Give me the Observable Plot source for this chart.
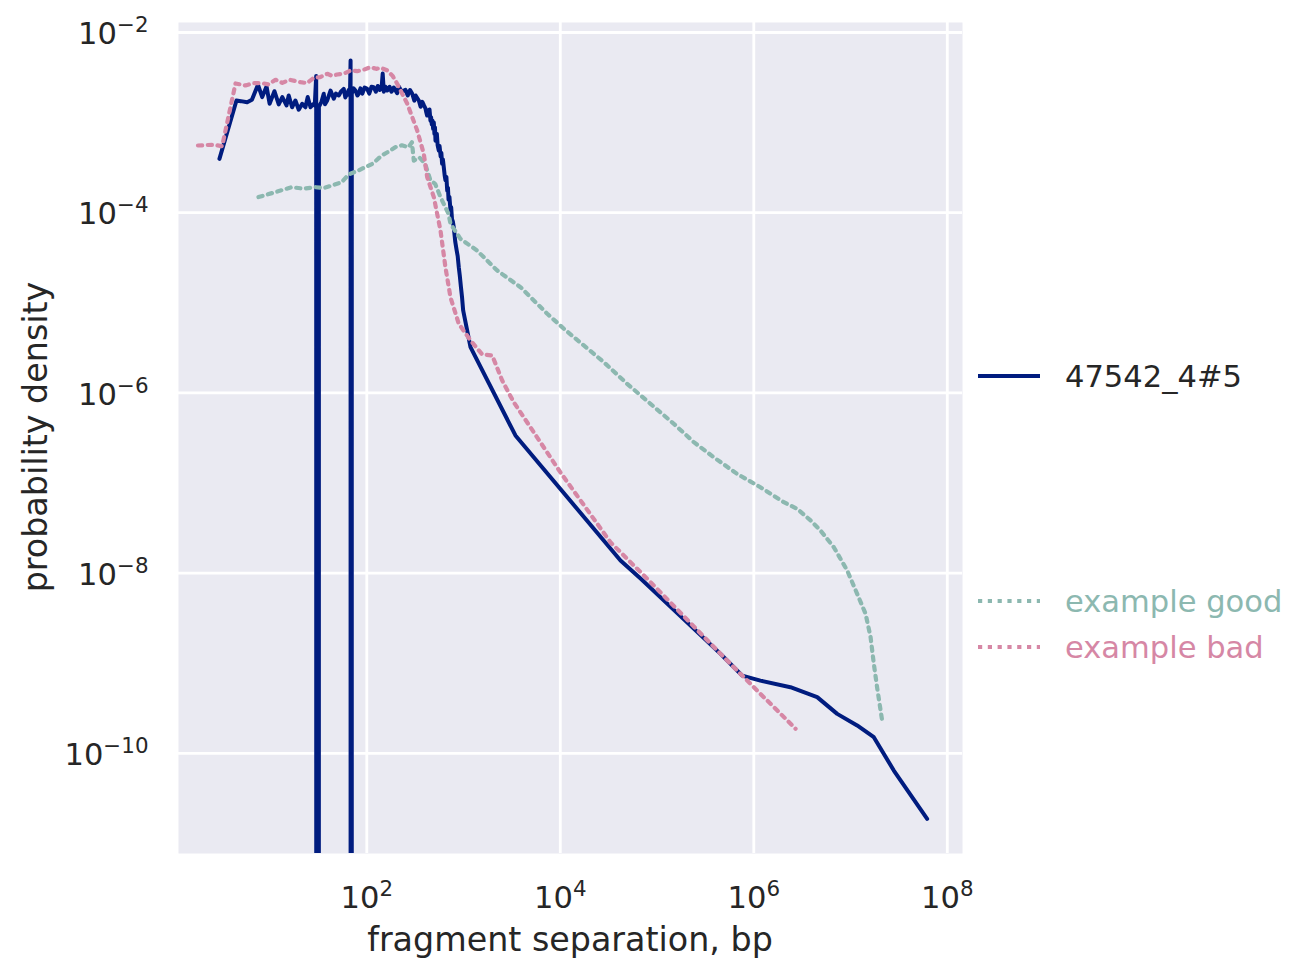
<!DOCTYPE html>
<html><head><meta charset="utf-8">
<script src="https://cdn.jsdelivr.net/npm/d3@7"></script>
<script src="https://cdn.jsdelivr.net/npm/@observablehq/plot@0.6"></script>
<style>
body{margin:0;background:#fff;font-family:"DejaVu Sans",sans-serif;}
#wrap{position:relative;width:1309px;height:979px;overflow:hidden;}
.lbl{position:absolute;font-size:33.33px;line-height:1;color:#262626;white-space:nowrap;}
.leg{position:absolute;left:978px;height:40px;display:flex;align-items:center;font-size:30.56px;white-space:nowrap;}
.leg svg{margin-right:25px;}
</style></head><body><div id="wrap"></div>
<script>
// ---- data ----
const seriesNames = ["47542_4#5", "example good", "example bad"];
const seriesColors = ["#001c7f", "#8cb8b0", "#d687a5"];

const sampleSep = [3,4.5,5,5.8,6.5,7.5,8.3,9.2,9.9,11.1,12.3,13.4,14.8,15.6,16.9,18.3,19.8,21.5,23.2,24.5,26.2,28,29,30,31,32,34,35.9,37,39,42.2,45.6,48,51.4,54,57.8,60,62.7,65,67,68,69,70,73,76.4,80,82.6,86,90,95,101,106,112,118,124,130,136,142,146,150,156,163,172,180,190,206,215,230,251,265,280,295,310,320,345,360,375,
  390,404,412,420,428,435,445,455,462,470,478,485,493,500,507,513,522,530,540,555,565,580,590,600,612,625,638,650,665,678,690,700,715,733,745,760,775,793,820,850,870,893,915,940,965,991,
  1180,3440,41900,67500,453000,759000,1.17e6,2.39e6,4.52e6,7.28e6,1.17e7,1.74e7,2.8e7,6.19e7];
const sampleDensity = [3.96e-4,1.76e-3,1.73e-3,1.68e-3,1.79e-3,2.63e-3,1.92e-3,2.52e-3,1.62e-3,2.23e-3,1.59e-3,1.92e-3,1.55e-3,2.0e-3,1.48e-3,1.76e-3,1.39e-3,1.62e-3,1.48e-3,1.92e-3,1.48e-3,1.6e-3,1.55e-3,3.3e-3,0,1.5e-3,1.7e-3,2.09e-3,1.6e-3,1.76e-3,2.27e-3,1.84e-3,2.1e-3,2.0e-3,2.2e-3,2.37e-3,1.9e-3,2.09e-3,2.3e-3,2.0e-3,4.9e-3,0,2.1e-3,2.4e-3,2.27e-3,2.0e-3,2.09e-3,2.4e-3,2.1e-3,2.45e-3,2.37e-3,2.1e-3,2.5e-3,2.47e-3,2.2e-3,2.55e-3,2.3e-3,2.4e-3,3.5e-3,2.2e-3,2.5e-3,2.27e-3,2.5e-3,2.2e-3,2.45e-3,2.12e-3,2.5e-3,2.2e-3,2.31e-3,2.0e-3,2.3e-3,2.09e-3,1.75e-3,2.0e-3,1.76e-3,1.5e-3,1.7e-3,
  1.55e-3,1.44e-3,1.3e-3,1.2e-3,1.35e-3,1.2e-3,1.4e-3,1.05e-3,1.15e-3,9.5e-4,1.05e-3,8.5e-4,1.0e-3,7.5e-4,8.8e-4,6.3e-4,7.0e-4,7.5e-4,5.6e-4,4.9e-4,5.5e-4,4.2e-4,4.6e-4,3.5e-4,3.9e-4,3.2e-4,2.6e-4,2.3e-4,2.5e-4,1.76e-4,1.9e-4,1.4e-4,1.5e-4,1.06e-4,1.15e-4,8.5e-5,8.0e-5,6.9e-5,4.8e-5,3.8e-5,3.3e-5,2.48e-5,2.0e-5,1.5e-5,1.15e-5,8.22e-6,
  3.22e-6,3.37e-7,1.38e-8,8.7e-9,1.27e-9,7.29e-10,6.41e-10,5.42e-10,4.2e-10,2.74e-10,2.04e-10,1.51e-10,6.44e-11,1.87e-11];

const goodSep = [7.6,11.3,16.8,22,29.3,36,43.5,55.2,64.7,80,96.2,115,143,170,197,230,270,293,306,350,401,455,509,578,699,733,929,1380,2230,3880,7330,10900,17500,28200,49100,85500,149000,240000,386000,674000,1.17e6,2.04e6,2.81e6,3.86e6,4.89e6,6.71e6,9.23e6,1.17e7,1.43e7,1.61e7,1.74e7,1.88e7,2.12e7];
const goodDensity = [1.49e-4,1.69e-4,1.92e-4,1.85e-4,1.92e-4,1.88e-4,2.0e-4,2.18e-4,2.66e-4,2.9e-4,3.2e-4,3.5e-4,4.32e-4,4.8e-4,5.33e-4,5.6e-4,5.33e-4,6.05e-4,3.79e-4,4.1e-4,3.49e-4,2.28e-4,2.09e-4,1.49e-4,9.72e-5,7.54e-5,5.13e-5,3.8e-5,2.28e-5,1.49e-5,7.55e-6,5.15e-6,3.36e-6,2.19e-6,1.26e-6,7.57e-7,4.54e-7,2.84e-7,1.93e-7,1.26e-7,8.98e-8,6.12e-8,5.17e-8,3.84e-8,2.97e-8,1.94e-8,1.07e-8,5.89e-9,3.53e-9,1.95e-9,9.84e-10,5.41e-10,2.31e-10];

const badSep = [1.8,2.6,3.2,4.4,5.57,6.74,8.29,9.64,11.4,13.4,15.9,20.6,24.2,28.3,33,39,44,49.4,58,68,79.6,95,109,125,140,163,185,206,262,332,388,421,493,578,650,733,893,1180,1560,1980,2510,3300,10000,33000,79100,453000,759000,1.17e6,1.75e6,2.7e6];
const badDensity = [5.57e-4,5.68e-4,5.47e-4,2.72e-3,2.58e-3,2.74e-3,2.74e-3,2.65e-3,2.99e-3,2.76e-3,2.99e-3,2.81e-3,2.74e-3,3.14e-3,3.2e-3,3.48e-3,3.3e-3,3.42e-3,3.5e-3,3.79e-3,3.72e-3,3.9e-3,4.12e-3,3.95e-3,4.05e-3,3.79e-3,3.3e-3,2.7e-3,1.62e-3,8.17e-4,4.51e-4,2.48e-4,1.49e-4,6.34e-5,2.48e-5,1.15e-5,5.85e-6,3.82e-6,2.67e-6,2.6e-6,1.37e-6,7.89e-7,1.32e-7,2.2e-8,8.65e-9,1.27e-9,7.29e-10,4.57e-10,2.99e-10,1.87e-10];

const xTicks = [1e2, 1e4, 1e6, 1e8];
const yTicks = [1e-2, 1e-4, 1e-6, 1e-8, 1e-10];
const xLabel = "fragment separation, bp";
const yLabel = "probability density";

// ---- build ----
const toRows = (xs, ys) => xs.map((x, i) => ({x, y: ys[i]}));
const sample = toRows(sampleSep, sampleDensity);
const good = toRows(goodSep, goodDensity);
const bad = toRows(badSep, badDensity);
// zero densities are clipped to the bottom, like a log axis with nonpositive="clip"
const posY = d => d.y > 0 ? d.y : 1e-300;
const dots = "4.2,5.6";

const plot = Plot.plot({
  width: 1309, height: 979,
  marginLeft: 178, marginRight: 347, marginTop: 22, marginBottom: 126,
  style: {fontFamily: "DejaVu Sans, sans-serif", fontSize: "30.56px", color: "#262626", background: "transparent"},
  x: {type: "log", domain: [10 ** 0.054, 10 ** 8.157]},
  y: {type: "log", domain: [10 ** -11.112, 10 ** -1.889]},
  marks: [
    Plot.frame({fill: "#eaeaf2", stroke: "none"}),
    Plot.gridX({ticks: xTicks, stroke: "white", strokeOpacity: 1, strokeWidth: 2.8}),
    Plot.gridY({ticks: yTicks, stroke: "white", strokeOpacity: 1, strokeWidth: 2.8}),
    Plot.axisX({ticks: xTicks, tickSize: 0, tickPadding: 33, fontSize: 30.56, label: null,
      tickFormat: d => "10^" + Math.round(Math.log10(d))}),
    Plot.axisY({ticks: yTicks, tickSize: 0, tickPadding: 30, fontSize: 30.56, label: null, dy: 2,
      tickFormat: d => "10^" + Math.round(Math.log10(d))}),
    Plot.line(sample, {x: "x", y: posY, stroke: seriesColors[0], strokeWidth: 4, clip: true, strokeLinejoin: "round"}),
    Plot.line(good, {x: "x", y: "y", stroke: seriesColors[1], strokeWidth: 4.2, strokeDasharray: dots, clip: true}),
    Plot.line(bad, {x: "x", y: "y", stroke: seriesColors[2], strokeWidth: 4.2, strokeDasharray: dots, clip: true})
  ]
});

// superscript exponents in tick labels
plot.querySelectorAll("text").forEach(t => {
  const m = /^10\^(.+)$/.exec(t.textContent);
  if (!m) return;
  t.textContent = "10";
  const ts = document.createElementNS("http://www.w3.org/2000/svg", "tspan");
  ts.setAttribute("dy", "-12");
  ts.setAttribute("font-size", "21.4");
  ts.textContent = m[1].replace("-", "\u2212");
  t.appendChild(ts);
});

const wrap = document.getElementById("wrap");
plot.style.position = "absolute";
plot.style.left = "0px";
plot.style.top = "0px";
wrap.appendChild(plot);

// axis titles
const xl = document.createElement("div");
xl.className = "lbl";
xl.textContent = xLabel;
xl.style.left = "570px";
xl.style.top = "923px";
xl.style.transform = "translateX(-50%)";
wrap.appendChild(xl);

const yl = document.createElement("div");
yl.className = "lbl";
yl.textContent = yLabel;
yl.style.left = "36px";
yl.style.top = "437px";
yl.style.transform = "translate(-50%,-50%) rotate(-90deg)";
wrap.appendChild(yl);

// legend
const legendPos = [376, 601, 647];
const legendTextColors = ["#262626", seriesColors[1], seriesColors[2]];
seriesNames.forEach((name, i) => {
  const d = document.createElement("div");
  d.className = "leg";
  d.style.top = (legendPos[i] - 20) + "px";
  d.style.color = legendTextColors[i];
  const dash = i === 0 ? "" : `stroke-dasharray="${dots}"`;
  d.innerHTML = `<svg width="62" height="10"><line x1="0" y1="5" x2="62" y2="5" stroke="${seriesColors[i]}" stroke-width="4" ${dash} stroke-linecap="${i === 0 ? "round" : "butt"}"/></svg><span></span>`;
  d.querySelector("span").textContent = name;
  wrap.appendChild(d);
});
</script></body></html>
